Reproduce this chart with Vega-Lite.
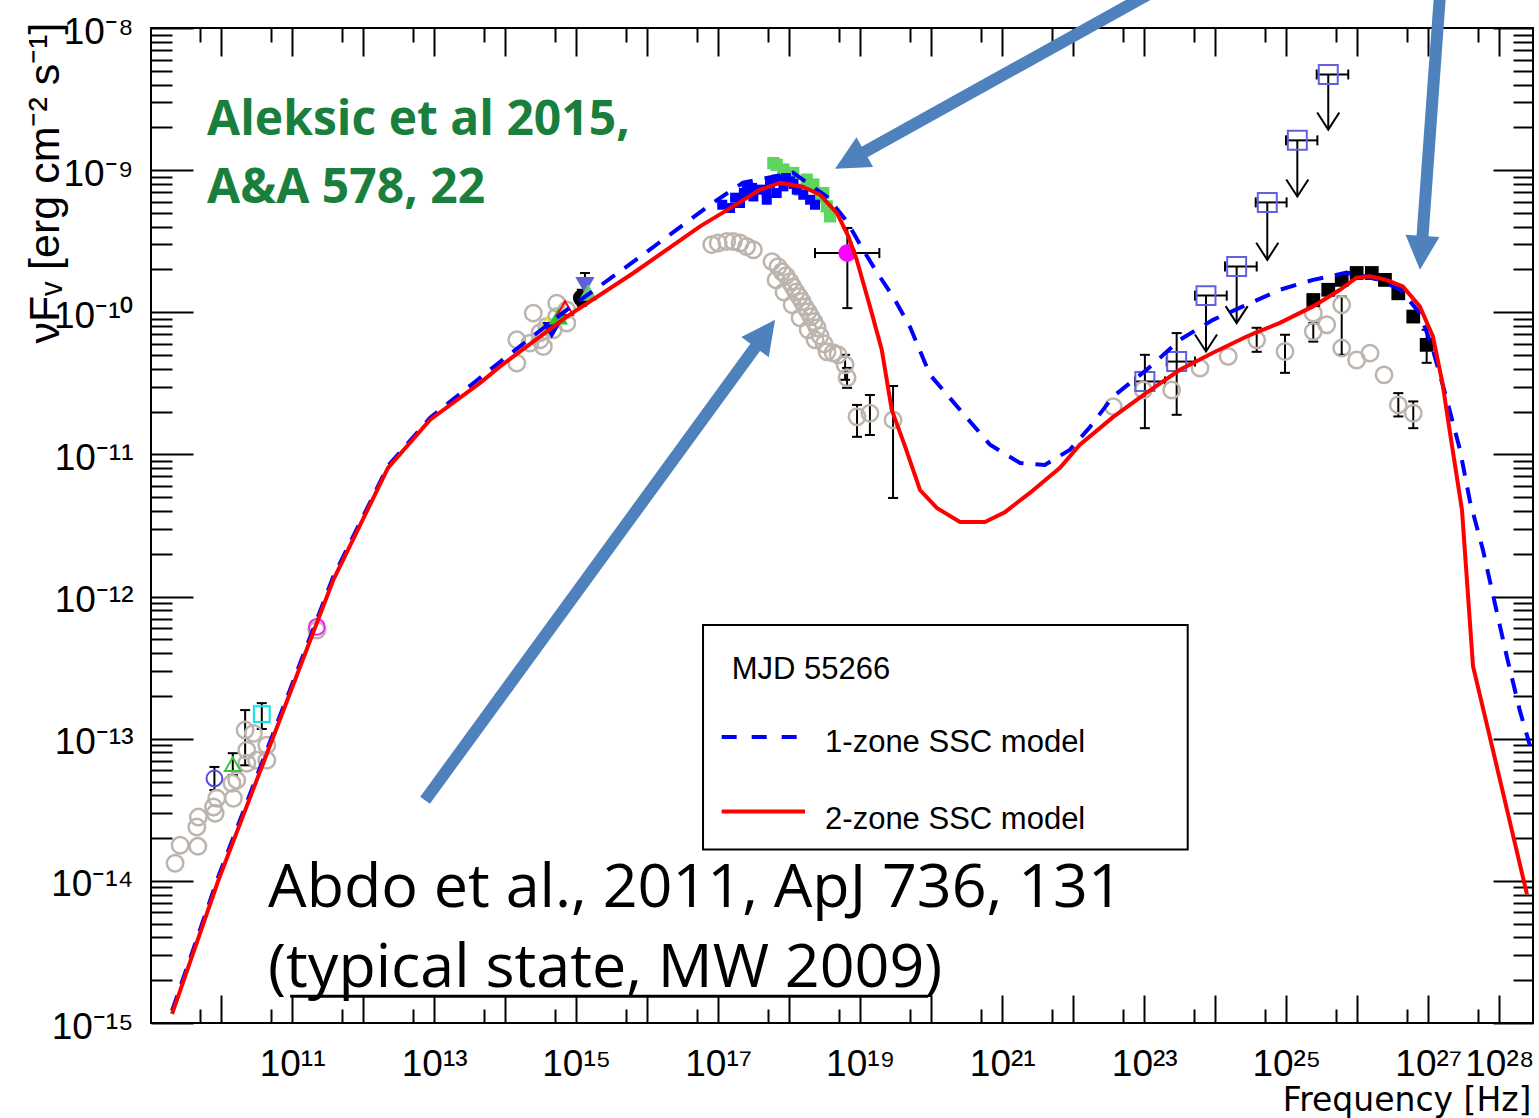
{
"$schema": "https://vega.github.io/schema/vega-lite/v6.json",
"width": 1382, "height": 995,
"autosize": {"type": "none"},
"padding": {"left": 151, "top": 28, "right": 6, "bottom": 95},
"background": "white",
"datasets": {
"red": [{"nu":2.04e9,"f":1.16e-15},{"nu":9.16e9,"f":1.01e-14},{"nu":3.81e11,"f":1.31e-12},{"nu":2.24e12,"f":8.04e-12},{"nu":8.71e12,"f":1.75e-11},{"nu":4.44e13,"f":3.19e-11},{"nu":8.51e13,"f":4.16e-11},{"nu":7.38e14,"f":9.33e-11},{"nu":6.40e15,"f":1.89e-10},{"nu":5.56e16,"f":4.02e-10},{"nu":1.63e17,"f":5.56e-10},{"nu":3.89e17,"f":7.29e-10},{"nu":7.43e17,"f":8.13e-10},{"nu":1.58e18,"f":7.62e-10},{"nu":2.72e18,"f":6.71e-10},{"nu":4.68e18,"f":5.00e-10},{"nu":6.81e18,"f":3.42e-10},{"nu":8.93e18,"f":2.34e-10},{"nu":1.37e19,"f":1.10e-10},{"nu":2.01e19,"f":5.45e-11},{"nu":2.78e19,"f":2.06e-11},{"nu":4.28e19,"f":1.14e-11},{"nu":6.95e19,"f":5.62e-12},{"nu":1.20e20,"f":4.20e-12},{"nu":2.54e20,"f":3.35e-12},{"nu":5.71e20,"f":3.35e-12},{"nu":1.10e21,"f":3.94e-12},{"nu":2.45e21,"f":5.36e-12},{"nu":6.50e21,"f":8.04e-12},{"nu":1.24e22,"f":1.17e-11},{"nu":3.63e22,"f":1.83e-11},{"nu":1.07e23,"f":2.71e-11},{"nu":3.18e23,"f":3.94e-11},{"nu":9.29e23,"f":5.19e-11},{"nu":2.77e24,"f":6.76e-11},{"nu":8.13e24,"f":8.43e-11},{"nu":2.38e25,"f":1.10e-10},{"nu":5.70e25,"f":1.44e-10},{"nu":9.77e25,"f":1.75e-10},{"nu":1.51e26,"f":1.79e-10},{"nu":2.57e26,"f":1.69e-10},{"nu":4.37e26,"f":1.52e-10},{"nu":7.59e26,"f":1.10e-10},{"nu":1.16e27,"f":6.76e-11},{"nu":1.58e27,"f":3.19e-11},{"nu":2.02e27,"f":1.42e-11},{"nu":2.98e27,"f":4.06e-12},{"nu":4.26e27,"f":3.24e-13},{"nu":7.38e27,"f":1.02e-13},{"nu":2.45e28,"f":8.04e-15}],
"blue": [{"nu":2.04e9,"f":1.22e-15},{"nu":9.08e9,"f":1.06e-14},{"nu":3.78e11,"f":1.37e-12},{"nu":2.24e12,"f":8.30e-12},{"nu":8.77e12,"f":1.81e-11},{"nu":4.44e13,"f":3.46e-11},{"nu":8.51e13,"f":4.49e-11},{"nu":7.38e14,"f":1.04e-10},{"nu":6.40e15,"f":2.27e-10},{"nu":8.47e16,"f":5.90e-10},{"nu":2.24e17,"f":8.17e-10},{"nu":1.13e18,"f":9.59e-10},{"nu":3.41e18,"f":6.50e-10},{"nu":6.53e18,"f":4.34e-10},{"nu":1.10e19,"f":2.75e-10},{"nu":1.73e19,"f":1.90e-10},{"nu":2.90e19,"f":1.29e-10},{"nu":5.02e19,"f":7.91e-11},{"nu":9.62e19,"f":3.63e-11},{"nu":2.54e20,"f":2.06e-11},{"nu":6.73e20,"f":1.17e-11},{"nu":1.78e21,"f":8.71e-12},{"nu":3.98e21,"f":8.43e-12},{"nu":9.02e21,"f":1.08e-11},{"nu":1.72e22,"f":1.56e-11},{"nu":3.63e22,"f":2.55e-11},{"nu":1.08e23,"f":3.94e-11},{"nu":3.18e23,"f":6.40e-11},{"nu":9.29e23,"f":8.85e-11},{"nu":2.45e24,"f":1.10e-10},{"nu":8.15e24,"f":1.44e-10},{"nu":2.38e25,"f":1.69e-10},{"nu":7.08e25,"f":1.90e-10},{"nu":2.09e26,"f":1.69e-10},{"nu":3.98e26,"f":1.44e-10},{"nu":7.59e26,"f":9.91e-11},{"nu":1.16e27,"f":5.45e-11},{"nu":1.83e27,"f":2.42e-11},{"nu":2.79e27,"f":1.08e-11},{"nu":3.85e27,"f":4.71e-12},{"nu":5.89e27,"f":2.12e-12},{"nu":8.13e27,"f":1.03e-12},{"nu":1.28e28,"f":3.75e-13},{"nu":1.95e28,"f":1.57e-13},{"nu":2.69e28,"f":8.99e-14}],
"abdo": [{"nu":2.25e9,"f":1.33e-14},{"nu":2.65e9,"f":1.78e-14},{"nu":4.70e9,"f":1.75e-14},{"nu":4.55e9,"f":2.39e-14},{"nu":4.79e9,"f":2.81e-14},{"nu":8.24e9,"f":2.99e-14},{"nu":7.80e9,"f":3.31e-14},{"nu":8.69e9,"f":3.81e-14},{"nu":1.49e10,"f":3.81e-14},{"nu":1.42e10,"f":4.86e-14},{"nu":1.66e10,"f":5.11e-14},{"nu":2.30e10,"f":6.72e-14},{"nu":2.30e10,"f":8.30e-14},{"nu":3.18e10,"f":7.06e-14},{"nu":4.40e10,"f":7.06e-14},{"nu":4.40e10,"f":9.00e-14},{"nu":2.85e10,"f":1.09e-13},{"nu":2.18e10,"f":1.15e-13},{"nu":2.23e11,"f":5.81e-13},
{"nu":2.49e14,"f":9.86e-11},{"nu":1.46e14,"f":6.40e-11},{"nu":1.46e14,"f":4.39e-11},{"nu":2.24e14,"f":6.07e-11},{"nu":3.10e14,"f":6.40e-11},{"nu":3.45e14,"f":5.74e-11},{"nu":4.77e14,"f":7.53e-11},{"nu":5.33e14,"f":9.33e-11},{"nu":5.33e14,"f":1.16e-10},{"nu":7.38e14,"f":8.39e-11},{"nu":7.38e14,"f":1.04e-10},{"nu":3.85e14,"f":7.94e-11},{"nu":3.10e14,"f":7.18e-11},
{"nu":8.11e16,"f":2.99e-10},{"nu":1.00e17,"f":3.07e-10},{"nu":1.32e17,"f":3.15e-10},{"nu":1.63e17,"f":3.15e-10},{"nu":2.03e17,"f":3.07e-10},{"nu":2.52e17,"f":2.90e-10},{"nu":3.13e17,"f":2.75e-10},
{"nu":5.73e17,"f":2.27e-10},{"nu":6.96e17,"f":2.09e-10},{"nu":7.93e17,"f":1.93e-10},{"nu":9.02e17,"f":1.81e-10},{"nu":1.03e18,"f":1.64e-10},{"nu":1.13e18,"f":1.51e-10},{"nu":1.25e18,"f":1.39e-10},{"nu":1.38e18,"f":1.29e-10},{"nu":1.52e18,"f":1.19e-10},{"nu":1.67e18,"f":1.09e-10},{"nu":1.85e18,"f":1.01e-10},{"nu":2.03e18,"f":9.29e-11},{"nu":2.24e18,"f":8.57e-11},{"nu":2.47e18,"f":7.78e-11},{"nu":2.72e18,"f":6.84e-11},{"nu":3.10e18,"f":6.00e-11},{"nu":3.41e18,"f":5.27e-11},{"nu":4.15e18,"f":5.19e-11},{"nu":4.88e18,"f":5.02e-11},{"nu":6.12e18,"f":4.27e-11},{"nu":6.53e18,"f":3.46e-11},
{"nu":6.53e17,"f":1.69e-10},{"nu":8.45e17,"f":1.39e-10},{"nu":1.10e18,"f":1.13e-10},{"nu":1.42e18,"f":9.14e-11},{"nu":1.85e18,"f":7.53e-11},{"nu":2.31e18,"f":6.40e-11},
{"nu":9.02e18,"f":1.84e-11},{"nu":1.37e19,"f":1.95e-11},{"nu":2.90e19,"f":1.75e-11},
{"nu":3.66e22,"f":2.17e-11},{"nu":9.70e22,"f":2.84e-11},{"nu":2.43e23,"f":2.84e-11},{"nu":6.10e23,"f":4.05e-11},{"nu":1.52e24,"f":4.89e-11},{"nu":3.83e24,"f":6.40e-11},{"nu":9.59e24,"f":5.30e-11},{"nu":2.40e25,"f":9.86e-11},{"nu":2.40e25,"f":7.33e-11},{"nu":3.71e25,"f":8.17e-11},{"nu":6.03e25,"f":1.13e-10},{"nu":6.03e25,"f":5.60e-11},{"nu":9.79e25,"f":4.62e-11},{"nu":1.51e26,"f":5.16e-11},{"nu":2.38e26,"f":3.63e-11},{"nu":3.78e26,"f":2.23e-11},{"nu":6.14e26,"f":1.95e-11}],
"xrt": [{"nu":1.47e17,"f":5.42e-10},{"nu":2.03e17,"f":5.87e-10},{"nu":2.52e17,"f":7.69e-10},{"nu":3.13e17,"f":6.53e-10},{"nu":3.89e17,"f":7.29e-10},{"nu":4.83e17,"f":6.90e-10},{"nu":5.37e17,"f":8.13e-10},{"nu":6.67e17,"f":8.57e-10},{"nu":8.28e17,"f":7.69e-10},{"nu":1.03e18,"f":8.34e-10},{"nu":1.28e18,"f":7.29e-10},{"nu":1.58e18,"f":6.71e-10},{"nu":1.97e18,"f":6.19e-10},{"nu":4.83e17,"f":6.19e-10},{"nu":6.67e17,"f":6.90e-10},{"nu":1.14e17,"f":5.71e-10},{"nu":2.31e18,"f":5.71e-10},{"nu":1.73e17,"f":6.40e-10},{"nu":9.0e17,"f":8.8e-10},{"nu":1.15e18,"f":8.0e-10},{"nu":3.0e17,"f":7.5e-10},{"nu":2.3e17,"f":6.9e-10}],
"bat": [{"nu":5.98e17,"f":1.12e-9},{"nu":6.67e17,"f":1.09e-9},{"nu":8.28e17,"f":1.01e-9},{"nu":1.14e18,"f":9.55e-10},{"nu":1.77e18,"f":8.57e-10},{"nu":2.19e18,"f":7.91e-10},{"nu":2.72e18,"f":6.53e-10},{"nu":3.38e18,"f":5.56e-10},{"nu":3.77e18,"f":4.73e-10},{"nu":3.02e18,"f":6.90e-10},{"nu":1.42e18,"f":7.29e-10}],
"magic": [{"nu":2.40e25,"f":1.22e-10},{"nu":3.90e25,"f":1.44e-10},{"nu":6.03e25,"f":1.69e-10},{"nu":9.79e25,"f":1.89e-10},{"nu":1.60e26,"f":1.89e-10},{"nu":2.45e26,"f":1.69e-10},{"nu":3.78e26,"f":1.36e-10},{"nu":6.14e26,"f":9.33e-11},{"nu":9.48e26,"f":5.90e-11}],
"lat": [{"nu":1.02e23,"f":3.26e-11},{"nu":2.86e23,"f":4.50e-11},{"nu":7.40e23,"f":1.31e-10,"f2":5.30e-11},{"nu":2.00e24,"f":2.10e-10,"f2":8.39e-11},{"nu":5.40e24,"f":5.93e-10,"f2":2.34e-10},{"nu":1.43e25,"f":1.62e-9,"f2":6.53e-10},{"nu":3.90e25,"f":4.71e-9,"f2":1.93e-9}],
"misc": [{"nu":8.05e9,"f":5.25e-14,"inst":"radio_blue"},{"nu":1.46e10,"f":6.61e-14,"inst":"radio_green"},{"nu":3.74e10,"f":1.49e-13,"inst":"radio_cyan"},{"nu":2.23e11,"f":6.12e-13,"inst":"radio_magenta"},{"nu":3.85e14,"f":8.17e-11,"inst":"opt_yellow"},{"nu":4.53e14,"f":7.53e-11,"inst":"uv_blue"},{"nu":5.61e14,"f":9.33e-11,"inst":"opt_green"},{"nu":6.98e14,"f":1.07e-10,"inst":"opt_red"},{"nu":1.20e15,"f":1.26e-10,"inst":"uv_black"},{"nu":1.33e15,"f":1.56e-10,"inst":"uv_slate"},{"nu":1.47e15,"f":1.37e-10,"inst":"uv_green"},{"nu":6.59e18,"f":2.61e-10,"inst":"xray_magenta"}],
"verr": [{"nu":8.05e9,"f":4.35e-14,"f2":6.33e-14},{"nu":1.46e10,"f":5.56e-14,"f2":7.91e-14},{"nu":3.74e10,"f":1.17e-13,"f2":1.78e-13},{"nu":2.18e10,"f":6.50e-14,"f2":1.59e-13},{"nu":1.20e15,"f":1.11e-10,"f2":1.44e-10},{"nu":1.33e15,"f":1.29e-10,"f2":1.89e-10},{"nu":6.59e18,"f":1.07e-10,"f2":3.92e-10},{"nu":6.12e18,"f":3.35e-11,"f2":5.02e-11},{"nu":6.53e18,"f":2.94e-11,"f2":4.06e-11},{"nu":9.02e18,"f":1.33e-11,"f2":2.23e-11},{"nu":1.37e19,"f":1.37e-11,"f2":2.62e-11},{"nu":2.90e19,"f":4.94e-12,"f2":3.03e-11},{"nu":1.02e23,"f":1.53e-11,"f2":5.02e-11},{"nu":2.86e23,"f":1.90e-11,"f2":7.14e-11},{"nu":3.83e24,"f":5.27e-11,"f2":7.78e-11},{"nu":9.59e24,"f":3.75e-11,"f2":6.95e-11},{"nu":2.40e25,"f":6.22e-11,"f2":8.39e-11},{"nu":6.03e25,"f":5.02e-11,"f2":1.29e-10},{"nu":3.78e26,"f":1.85e-11,"f2":2.70e-11},{"nu":6.14e26,"f":1.53e-11,"f2":2.36e-11},{"nu":9.48e26,"f":4.41e-11,"f2":7.53e-11}],
"xerr": [{"nu":2.31e18,"nu2":1.86e19,"f":2.61e-10},{"nu":7.41e22,"nu2":1.96e23,"f":3.26e-11},{"nu":2.07e23,"nu2":5.18e23,"f":4.50e-11},{"nu":5.18e23,"nu2":1.45e24,"f":1.31e-10},{"nu":1.37e24,"nu2":3.83e24,"f":2.10e-10},{"nu":3.71e24,"nu2":1.01e25,"f":5.93e-10},{"nu":9.91e24,"nu2":2.74e25,"f":1.62e-9},{"nu":2.68e25,"nu2":7.46e25,"f":4.71e-9}]
},
"layer": [
{"data": {"name": "verr"}, "mark": {"type": "rule", "color": "black", "strokeWidth": 2},
 "encoding": {
  "x": {"field": "nu", "type": "quantitative", "scale": {"type": "log", "domain": [1.03e9, 2.98e28], "nice": false},
   "axis": {"orient": "bottom", "values": [1e11,1e13,1e15,1e17,1e19,1e21,1e23,1e25,1e27,1e28], "ticks": false, "tickSize": 0, "domain": false, "grid": false,
    "labelExpr": "({'11':'10¹¹','13':'10¹³','15':'10¹⁵','17':'10¹⁷','19':'10¹⁹','21':'10²¹','23':'10²³','25':'10²⁵','27':'10²⁷','28':'10²⁸'})[''+round(log(datum.value)/LN10)]",
    "labelFont": "Liberation Sans", "labelFontSize": 37, "labelColor": "black", "labelPadding": 23, "labelBaseline": "top", "labelAlign": "center", "labelOverlap": false, "labelFlush": false, "labelBound": false,
    "title": "Frequency [Hz]", "titleFont": "DejaVu Sans", "titleFontSize": 33, "titleFontWeight": "normal", "titleColor": "black", "titleAnchor": "end", "titleAlign": "right", "titleBaseline": "alphabetic", "titleX": 1380, "titleY": 87}},
  "y": {"field": "f", "type": "quantitative", "scale": {"type": "log", "domain": [1e-15, 1e-8], "nice": false},
   "axis": {"orient": "left", "values": [1e-15,1e-14,1e-13,1e-12,1e-11,1e-10,1e-9,1e-8], "ticks": false, "tickSize": 0, "domain": false, "grid": false,
    "labelExpr": "({'-8':'10⁻⁸','-9':'10⁻⁹','-10':'10⁻¹⁰','-11':'10⁻¹¹','-12':'10⁻¹²','-13':'10⁻¹³','-14':'10⁻¹⁴','-15':'10⁻¹⁵'})[''+round(log(datum.value)/LN10)]",
    "labelFont": "Liberation Sans", "labelFontSize": 37, "labelColor": "black", "labelPadding": 18, "labelAlign": "right", "labelBaseline": "middle", "labelOffset": 4, "labelOverlap": false, "labelFlush": false, "labelBound": false,
    "title": "νFᵥ [erg cm⁻² s⁻¹]", "titleFont": "Liberation Sans", "titleFontSize": 43, "titleFontWeight": "normal", "titleColor": "black", "titleAngle": 270, "titleAnchor": "end", "titleAlign": "right", "titleBaseline": "alphabetic", "titleX": -93, "titleY": -6}},
  "y2": {"field": "f2"}}},
{"data": {"name": "xerr"}, "mark": {"type": "rule", "color": "black", "strokeWidth": 2},
 "encoding": {
  "x": {"field": "nu", "type": "quantitative", "scale": {"type": "log", "domain": [1.03e9, 2.98e28], "nice": false},
   "axis": {"orient": "bottom", "values": [1e10,1e11,1e12,1e13,1e14,1e15,1e16,1e17,1e18,1e19,1e20,1e21,1e22,1e23,1e24,1e25,1e26,1e27,1e28], "labels": false, "domain": false, "grid": false, "ticks": true, "tickSize": -28, "tickWidth": 2, "tickColor": "black", "title": null}},
  "x2": {"field": "nu2"},
  "y": {"field": "f", "type": "quantitative", "scale": {"type": "log", "domain": [1e-15, 1e-8], "nice": false},
   "axis": {"orient": "left", "values": [1e-15,1e-14,1e-13,1e-12,1e-11,1e-10,1e-9,1e-8], "labels": false, "domain": false, "grid": false, "ticks": true, "tickSize": -42, "tickWidth": 2, "tickColor": "black", "title": null}}}},
{"data": {"name": "verr"}, "mark": {"type": "point", "shape": "stroke", "size": 100, "filled": false, "stroke": "black", "strokeWidth": 2, "opacity": 1},
 "encoding": {
  "x": {"field": "nu", "type": "quantitative", "scale": {"type": "log", "domain": [1.03e9, 2.98e28], "nice": false},
   "axis": {"orient": "bottom", "values": [5e9,5e10,5e11,5e12,5e13,5e14,5e15,5e16,5e17,5e18,5e19,5e20,5e21,5e22,5e23,5e24,5e25,5e26,5e27], "labels": false, "domain": false, "grid": false, "ticks": true, "tickSize": -14, "tickWidth": 2, "tickColor": "black", "title": null}},
  "y": {"field": "f", "type": "quantitative", "scale": {"type": "log", "domain": [1e-15, 1e-8], "nice": false},
   "axis": {"orient": "left", "values": [2e-15,3e-15,4e-15,5e-15,6e-15,7e-15,8e-15,9e-15,2e-14,3e-14,4e-14,5e-14,6e-14,7e-14,8e-14,9e-14,2e-13,3e-13,4e-13,5e-13,6e-13,7e-13,8e-13,9e-13,2e-12,3e-12,4e-12,5e-12,6e-12,7e-12,8e-12,9e-12,2e-11,3e-11,4e-11,5e-11,6e-11,7e-11,8e-11,9e-11,2e-10,3e-10,4e-10,5e-10,6e-10,7e-10,8e-10,9e-10,2e-9,3e-9,4e-9,5e-9,6e-9,7e-9,8e-9,9e-9], "labels": false, "domain": false, "grid": false, "ticks": true, "tickSize": -21, "tickWidth": 2, "tickColor": "black", "title": null}}}},
{"data": {"name": "verr"}, "mark": {"type": "point", "shape": "stroke", "size": 100, "filled": false, "stroke": "black", "strokeWidth": 2, "opacity": 1},
 "encoding": {
  "x": {"field": "nu", "type": "quantitative", "scale": {"type": "log", "domain": [1.03e9, 2.98e28], "nice": false},
   "axis": {"orient": "top", "values": [1e10,1e11,1e12,1e13,1e14,1e15,1e16,1e17,1e18,1e19,1e20,1e21,1e22,1e23,1e24,1e25,1e26,1e27,1e28], "labels": false, "domain": false, "grid": false, "ticks": true, "tickSize": -28, "tickWidth": 2, "tickColor": "black", "title": null}},
  "y": {"field": "f2", "type": "quantitative", "scale": {"type": "log", "domain": [1e-15, 1e-8], "nice": false},
   "axis": {"orient": "right", "values": [1e-15,1e-14,1e-13,1e-12,1e-11,1e-10,1e-9,1e-8], "labels": false, "domain": false, "grid": false, "ticks": true, "tickSize": -40, "tickWidth": 2, "tickColor": "black", "title": null}}}},
{"data": {"name": "xerr"}, "mark": {"type": "point", "shape": "M0,-1L0,1", "size": 100, "filled": false, "stroke": "black", "strokeWidth": 2, "opacity": 1},
 "encoding": {
  "x": {"field": "nu", "type": "quantitative", "scale": {"type": "log", "domain": [1.03e9, 2.98e28], "nice": false},
   "axis": {"orient": "top", "values": [5e9,5e10,5e11,5e12,5e13,5e14,5e15,5e16,5e17,5e18,5e19,5e20,5e21,5e22,5e23,5e24,5e25,5e26,5e27], "labels": false, "domain": false, "grid": false, "ticks": true, "tickSize": -14, "tickWidth": 2, "tickColor": "black", "title": null}},
  "y": {"field": "f", "type": "quantitative", "scale": {"type": "log", "domain": [1e-15, 1e-8], "nice": false},
   "axis": {"orient": "right", "values": [2e-15,3e-15,4e-15,5e-15,6e-15,7e-15,8e-15,9e-15,2e-14,3e-14,4e-14,5e-14,6e-14,7e-14,8e-14,9e-14,2e-13,3e-13,4e-13,5e-13,6e-13,7e-13,8e-13,9e-13,2e-12,3e-12,4e-12,5e-12,6e-12,7e-12,8e-12,9e-12,2e-11,3e-11,4e-11,5e-11,6e-11,7e-11,8e-11,9e-11,2e-10,3e-10,4e-10,5e-10,6e-10,7e-10,8e-10,9e-10,2e-9,3e-9,4e-9,5e-9,6e-9,7e-9,8e-9,9e-9], "labels": false, "domain": false, "grid": false, "ticks": true, "tickSize": -20, "tickWidth": 2, "tickColor": "black", "title": null}}}},
{"data": {"name": "xerr"}, "mark": {"type": "point", "shape": "M0,-1L0,1", "size": 100, "filled": false, "stroke": "black", "strokeWidth": 2, "opacity": 1},
 "encoding": {"x": {"field": "nu2", "type": "quantitative", "axis": null}, "y": {"field": "f", "type": "quantitative", "axis": null}}},
{"data": {"name": "lat"}, "transform": [{"filter": "isValid(datum.f2)"}], "mark": {"type": "rule", "color": "black", "strokeWidth": 2},
 "encoding": {"x": {"field": "nu", "type": "quantitative", "axis": null}, "y": {"field": "f", "type": "quantitative", "axis": null}, "y2": {"field": "f2"}}},
{"data": {"name": "lat"}, "transform": [{"filter": "isValid(datum.f2)"}], "mark": {"type": "point", "shape": "M-0.65,-1L0,0L0.65,-1", "size": 1156, "filled": false, "stroke": "black", "strokeWidth": 2, "opacity": 1},
 "encoding": {"x": {"field": "nu", "type": "quantitative", "axis": null}, "y": {"field": "f2", "type": "quantitative", "axis": null}}},
{"data": {"name": "abdo"}, "mark": {"type": "point", "shape": "circle", "size": 270, "filled": false, "stroke": "#bdb5ad", "strokeWidth": 2.5, "opacity": 1},
 "encoding": {"x": {"field": "nu", "type": "quantitative", "axis": null}, "y": {"field": "f", "type": "quantitative", "axis": null}}},
{"data": {"name": "misc"}, "mark": {"type": "point", "filled": true, "size": 250, "strokeWidth": 2, "opacity": 1},
 "encoding": {
  "x": {"field": "nu", "type": "quantitative", "axis": null}, "y": {"field": "f", "type": "quantitative", "axis": null},
  "shape": {"field": "inst", "type": "nominal", "legend": null, "scale": {"domain": ["radio_blue","radio_green","radio_cyan","radio_magenta","opt_yellow","uv_blue","opt_green","opt_red","uv_black","uv_slate","uv_green","xray_magenta"], "range": ["circle","triangle-up","square","circle","triangle-up","triangle-down","triangle-up","triangle-up","circle","triangle-down","triangle-up","circle"]}},
  "fill": {"field": "inst", "type": "nominal", "legend": null, "scale": {"domain": ["radio_blue","radio_green","radio_cyan","radio_magenta","opt_yellow","uv_blue","opt_green","opt_red","uv_black","uv_slate","uv_green","xray_magenta"], "range": ["transparent","transparent","transparent","transparent","transparent","#0000ff","#22cc22","transparent","#000000","#6060d8","#66cc66","#ff00ff"]}},
  "stroke": {"field": "inst", "type": "nominal", "legend": null, "scale": {"domain": ["radio_blue","radio_green","radio_cyan","radio_magenta","opt_yellow","uv_blue","opt_green","opt_red","uv_black","uv_slate","uv_green","xray_magenta"], "range": ["#5050d8","#3cc43c","#00e8e8","#ee22ee","#f0e000","#0000ff","#22cc22","#ff0000","#000000","#6060d8","#66cc66","#ff00ff"]}}}},
{"data": {"name": "bat"}, "mark": {"type": "point", "shape": "square", "size": 150, "filled": true, "color": "#5cd65c", "opacity": 1},
 "encoding": {"x": {"field": "nu", "type": "quantitative", "axis": null}, "y": {"field": "f", "type": "quantitative", "axis": null}}},
{"data": {"name": "xrt"}, "mark": {"type": "point", "shape": "square", "size": 100, "filled": true, "color": "#0000ff", "opacity": 1},
 "encoding": {"x": {"field": "nu", "type": "quantitative", "axis": null}, "y": {"field": "f", "type": "quantitative", "axis": null}}},
{"data": {"name": "magic"}, "mark": {"type": "point", "shape": "square", "size": 190, "filled": true, "color": "#000000", "opacity": 1},
 "encoding": {"x": {"field": "nu", "type": "quantitative", "axis": null}, "y": {"field": "f", "type": "quantitative", "axis": null}}},
{"data": {"name": "lat"}, "mark": {"type": "point", "shape": "square", "size": 360, "filled": false, "stroke": "#6060e0", "strokeWidth": 2, "opacity": 1},
 "encoding": {"x": {"field": "nu", "type": "quantitative", "axis": null}, "y": {"field": "f", "type": "quantitative", "axis": null}}},
{"data": {"name": "blue"}, "mark": {"type": "line", "color": "#0000ff", "strokeWidth": 4, "strokeDash": [16, 12]},
 "encoding": {"x": {"field": "nu", "type": "quantitative", "axis": null}, "y": {"field": "f", "type": "quantitative", "axis": null}}},
{"data": {"name": "red"}, "mark": {"type": "line", "color": "#ff0000", "strokeWidth": 4},
 "encoding": {"x": {"field": "nu", "type": "quantitative", "axis": null}, "y": {"field": "f", "type": "quantitative", "axis": null}}},
{"data": {"values": [{}]}, "mark": {"type": "rect", "fill": "white", "stroke": "black", "strokeWidth": 2},
 "encoding": {"x": {"datum": 6.12e16, "type": "quantitative", "axis": null}, "x2": {"datum": 4.09e23}, "y": {"datum": 6.30e-13, "type": "quantitative", "axis": null}, "y2": {"datum": 1.66e-14}}},
{"data": {"values": [{}]}, "mark": {"type": "text", "text": "MJD 55266", "font": "Liberation Sans", "fontSize": 31, "align": "left", "baseline": "alphabetic", "color": "black"},
 "encoding": {"x": {"datum": 1.55e17, "type": "quantitative", "axis": null}, "y": {"datum": 2.65e-13, "type": "quantitative", "axis": null}}},
{"data": {"values": [{}]}, "mark": {"type": "text", "text": "1-zone SSC model", "font": "Liberation Sans", "fontSize": 31, "align": "left", "baseline": "alphabetic", "color": "black"},
 "encoding": {"x": {"datum": 3.20e18, "type": "quantitative", "axis": null}, "y": {"datum": 8.07e-14, "type": "quantitative", "axis": null}}},
{"data": {"values": [{}]}, "mark": {"type": "text", "text": "2-zone SSC model", "font": "Liberation Sans", "fontSize": 31, "align": "left", "baseline": "alphabetic", "color": "black"},
 "encoding": {"x": {"datum": 3.20e18, "type": "quantitative", "axis": null}, "y": {"datum": 2.33e-14, "type": "quantitative", "axis": null}}},
{"data": {"values": [{}]}, "mark": {"type": "rule", "color": "#0000ff", "strokeWidth": 4, "strokeDash": [15, 15]},
 "encoding": {"x": {"datum": 1.12e17, "type": "quantitative", "axis": null}, "x2": {"datum": 1.35e18}, "y": {"datum": 1.03e-13, "type": "quantitative", "axis": null}}},
{"data": {"values": [{}]}, "mark": {"type": "rule", "color": "#ff0000", "strokeWidth": 4},
 "encoding": {"x": {"datum": 1.12e17, "type": "quantitative", "axis": null}, "x2": {"datum": 1.67e18}, "y": {"datum": 3.08e-14, "type": "quantitative", "axis": null}}},
{"data": {"values": [{}]}, "mark": {"type": "text", "text": "Aleksic et al 2015,", "font": "Open Sans", "fontWeight": "bold", "fontSize": 48, "align": "left", "baseline": "alphabetic", "color": "#1a7f3c"},
 "encoding": {"x": {"datum": 6.35e9, "type": "quantitative", "axis": null}, "y": {"datum": 1.78e-9, "type": "quantitative", "axis": null}}},
{"data": {"values": [{}]}, "mark": {"type": "text", "text": "A&A 578, 22", "font": "Open Sans", "fontWeight": "bold", "fontSize": 48, "align": "left", "baseline": "alphabetic", "color": "#1a7f3c"},
 "encoding": {"x": {"datum": 6.35e9, "type": "quantitative", "axis": null}, "y": {"datum": 5.90e-10, "type": "quantitative", "axis": null}}},
{"data": {"values": [{}]}, "mark": {"type": "text", "text": "Abdo et al., 2011, ApJ 736, 131", "font": "Open Sans", "fontSize": 61, "align": "left", "baseline": "alphabetic", "color": "black"},
 "encoding": {"x": {"datum": 4.59e10, "type": "quantitative", "axis": null}, "y": {"datum": 6.50e-15, "type": "quantitative", "axis": null}}},
{"data": {"values": [{}]}, "mark": {"type": "text", "text": "(typical state, MW 2009)", "font": "Open Sans", "fontSize": 61, "align": "left", "baseline": "alphabetic", "color": "black"},
 "encoding": {"x": {"datum": 4.59e10, "type": "quantitative", "axis": null}, "y": {"datum": 1.78e-15, "type": "quantitative", "axis": null}}},
{"data": {"values": [{}]}, "mark": {"type": "rule", "color": "black", "strokeWidth": 3},
 "encoding": {"x": {"datum": 9.38e10, "type": "quantitative", "axis": null}, "x2": {"datum": 9.02e19}, "y": {"datum": 1.54e-15, "type": "quantitative", "axis": null}}},
{"data": {"values": [{}]}, "mark": {"type": "rule", "color": "#4f81bd", "strokeWidth": 12, "strokeCap": "butt"},
 "encoding": {"x": {"datum": 1.13e23, "type": "quantitative", "axis": null}, "x2": {"datum": 9.93e18}, "y": {"datum": 1.72e-8, "type": "quantitative", "axis": null}, "y2": {"datum": 1.29e-9}}},
{"data": {"values": [{}]}, "mark": {"type": "rule", "color": "#4f81bd", "strokeWidth": 12, "strokeCap": "butt"},
 "encoding": {"x": {"datum": 1.46e27, "type": "quantitative", "axis": null}, "x2": {"datum": 8.22e26}, "y": {"datum": 1.72e-8, "type": "quantitative", "axis": null}, "y2": {"datum": 3.24e-10}}},
{"data": {"values": [{}]}, "mark": {"type": "rule", "color": "#4f81bd", "strokeWidth": 12, "strokeCap": "butt"},
 "encoding": {"x": {"datum": 7.45e12, "type": "quantitative", "axis": null}, "x2": {"datum": 3.52e17}, "y": {"datum": 3.69e-14, "type": "quantitative", "axis": null}, "y2": {"datum": 5.90e-11}}},
{"data": {"values": [{}]}, "mark": {"type": "point", "shape": "M0,-1L-1,1L1,1Z", "size": 1156, "filled": true, "color": "#4f81bd", "opacity": 1, "angle": 240.9},
 "encoding": {"x": {"datum": 7.16e18, "type": "quantitative", "axis": null}, "y": {"datum": 1.17e-9, "type": "quantitative", "axis": null}}},
{"data": {"values": [{}]}, "mark": {"type": "point", "shape": "M0,-1L-1,1L1,1Z", "size": 1156, "filled": true, "color": "#4f81bd", "opacity": 1, "angle": 184.2},
 "encoding": {"x": {"datum": 7.94e26, "type": "quantitative", "axis": null}, "y": {"datum": 2.62e-10, "type": "quantitative", "axis": null}}},
{"data": {"values": [{}]}, "mark": {"type": "point", "shape": "M0,-1L-1,1L1,1Z", "size": 1156, "filled": true, "color": "#4f81bd", "opacity": 1, "angle": 36.2},
 "encoding": {"x": {"datum": 4.57e17, "type": "quantitative", "axis": null}, "y": {"datum": 7.10e-11, "type": "quantitative", "axis": null}}}
],
"resolve": {"axis": {"x": "independent", "y": "independent"}, "scale": {"shape": "independent", "fill": "independent", "stroke": "independent"}},
"config": {"view": {"stroke": "black", "strokeWidth": 2}, "axis": {"grid": false}, "font": "Liberation Sans"}
}
